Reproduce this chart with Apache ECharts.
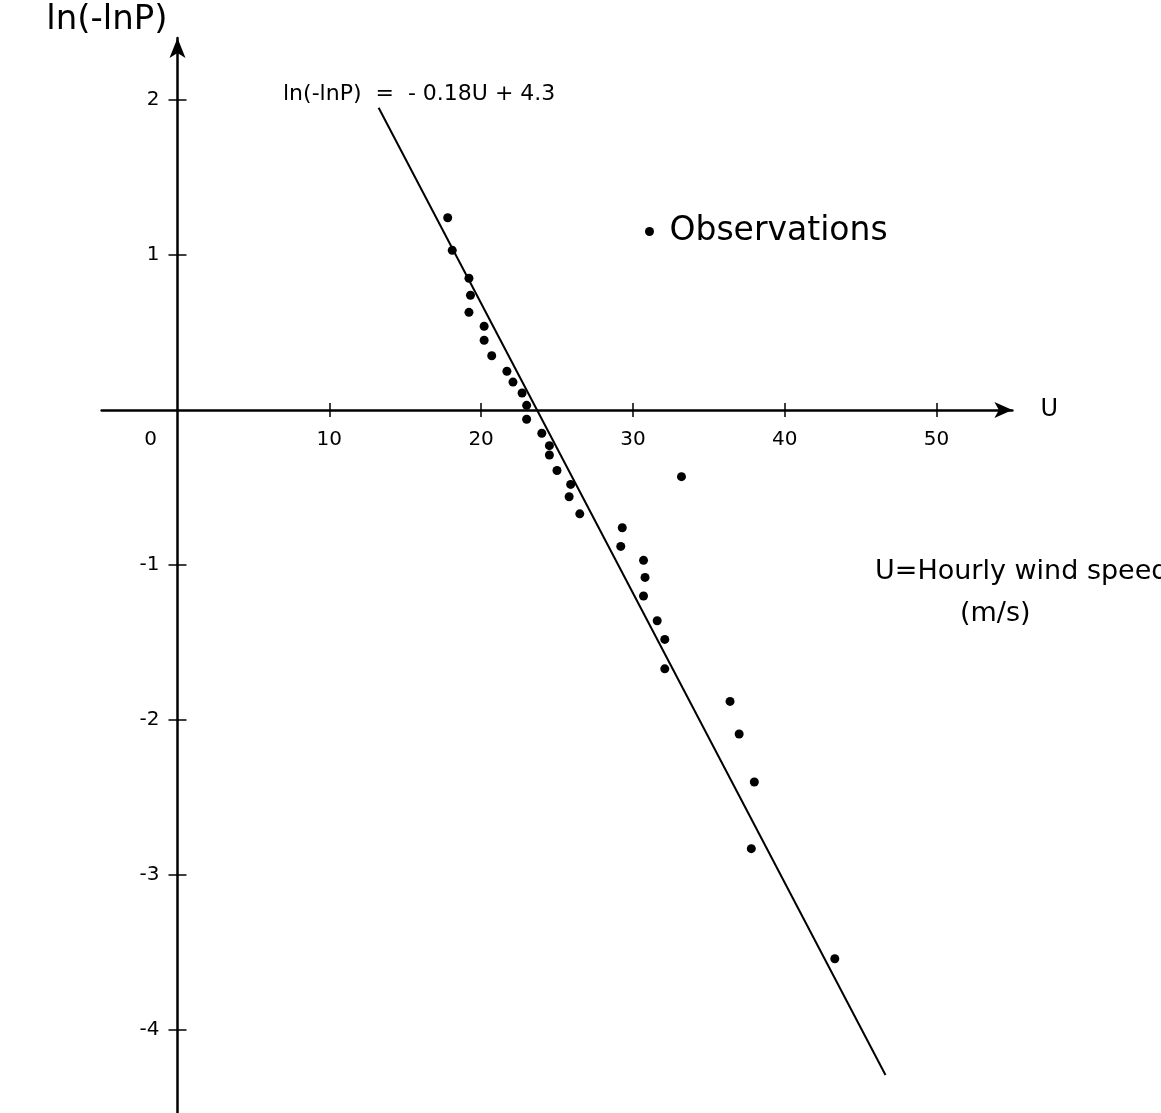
<!DOCTYPE html>
<html>
<head>
<meta charset="utf-8">
<title>ln(-lnP) against hourly wind speed</title>
<script src="https://cdn.jsdelivr.net/npm/echarts@6/dist/echarts.min.js"></script>
<style>
    html, body { margin: 0; padding: 0; background: #fff; }
    #chart { width: 1161px; height: 1113px; }
</style>
</head>
<body>
<div id="chart"></div>
<script>
// observations: hourly wind speed U (m/s) and ln(-lnP)
var obsU = [17.8, 18.1, 19.2, 19.3, 19.2, 20.2, 20.2, 20.7, 21.7, 22.1, 22.7, 23.0, 23.0,
    24.0, 24.5, 24.5, 25.0, 25.9, 25.8, 26.5, 33.2, 29.3, 29.2, 30.7, 30.8, 30.7,
    31.6, 32.1, 32.1, 36.4, 37.0, 38.0, 37.8, 43.3];
var obsY = [1.24, 1.03, 0.85, 0.74, 0.63, 0.54, 0.45, 0.35, 0.25, 0.18, 0.11, 0.03, -0.06,
    -0.15, -0.23, -0.29, -0.39, -0.48, -0.56, -0.67, -0.43, -0.76, -0.88, -0.97, -1.08, -1.20,
    -1.36, -1.48, -1.67, -1.88, -2.09, -2.40, -2.83, -3.54];
// fitted line ln(-lnP) = -0.18U + 4.3, ends as drawn
var fitU = [13.25, 46.64];
var fitY = [1.95, -4.29];
// axis ranges, ticks and labels
var xMin = -5, xMax = 55;
var yMin = -4.55, yMax = 2.4;
var xTicks = [10, 20, 30, 40, 50];
var xLabels = [0, 10, 20, 30, 40, 50];
var yTicks = [-4, -3, -2, -1, 1, 2];

var FONT = 'DejaVu Sans';
var gridW = 910.8, gridH = 1077.25;

var myChart = echarts.init(document.getElementById('chart'));

var obsData = obsU.map(function (u, i) { return [u, obsY[i]]; });
var fitData = fitU.map(function (u, i) { return [u, fitY[i]]; });

// axes cross at the origin: move them in from the grid edges
var xOffset = -(0 - yMin) / (yMax - yMin) * gridH;
var yOffset = -(0 - xMin) / (xMax - xMin) * gridW;

var tickStyle = { color: '#000', width: 1.5 };
// the second axis of each pair only adds the other half of the crossing ticks
var hiddenLine = { show: true, onZero: false, lineStyle: { color: '#000', opacity: 0 } };

var option = {
    animation: false,
    backgroundColor: '#fff',
    textStyle: { fontFamily: FONT, color: '#000' },
    grid: {
        left: 101.6,
        top: 38,
        width: gridW,
        height: gridH,
        containLabel: false,
        outerBoundsMode: 'none'
    },
    legend: {
        data: ['Observations'],
        left: 645,
        top: 215,
        padding: 0,
        icon: 'circle',
        itemWidth: 30,
        itemHeight: 9,
        textStyle: { fontSize: 33, color: '#000', fontFamily: FONT }
    },
    xAxis: [{
        type: 'value',
        position: 'bottom',
        offset: xOffset,
        min: xMin,
        max: xMax,
        splitLine: { show: false },
        axisLine: {
            onZero: false,
            symbol: ['none', 'arrow'],
            symbolSize: [12, 18],
            lineStyle: { color: '#000', width: 2.5 }
        },
        axisTick: { customValues: xTicks, length: 7, lineStyle: tickStyle },
        axisLabel: {
            customValues: xLabels,
            margin: 20,
            fontSize: 20,
            color: '#000',
            formatter: function (v) {
                return v === 0 ? '{z|0}' : String(v);
            },
            rich: {
                z: { fontSize: 20, fontFamily: FONT, padding: [0, 54, 0, 0] }
            }
        },
        name: 'U',
        nameLocation: 'end',
        nameGap: 28,
        nameTextStyle: { fontSize: 24, color: '#000' }
    }, {
        type: 'value',
        position: 'bottom',
        offset: xOffset,
        min: xMin,
        max: xMax,
        splitLine: { show: false },
        axisLine: hiddenLine,
        axisTick: { show: true, customValues: xTicks, inside: true, length: 7, lineStyle: tickStyle },
        axisLabel: { show: false }
    }],
    yAxis: [{
        type: 'value',
        position: 'left',
        offset: yOffset,
        min: yMin,
        max: yMax,
        splitLine: { show: false },
        axisLine: {
            onZero: false,
            symbol: ['none', 'arrow'],
            symbolSize: [12, 20],
            lineStyle: { color: '#000', width: 2.5 }
        },
        axisTick: { customValues: yTicks, length: 9, lineStyle: tickStyle },
        axisLabel: {
            customValues: yTicks,
            margin: 18,
            fontSize: 20,
            color: '#000'
        },
        name: 'ln(-lnP)',
        nameLocation: 'end',
        nameGap: 1,
        nameTextStyle: {
            fontSize: 34,
            color: '#000',
            align: 'right',
            verticalAlign: 'bottom',
            padding: [0, 10, 0, 0]
        }
    }, {
        type: 'value',
        position: 'left',
        offset: yOffset,
        min: yMin,
        max: yMax,
        splitLine: { show: false },
        axisLine: hiddenLine,
        axisTick: { show: true, customValues: yTicks, inside: true, length: 9, lineStyle: tickStyle },
        axisLabel: { show: false }
    }],
    graphic: [{
        type: 'text',
        left: 283,
        top: 83,
        style: { text: 'ln(-lnP)  =  - 0.18U + 4.3', font: '22px "DejaVu Sans"', fill: '#000' }
    }, {
        type: 'text',
        left: 875,
        top: 558,
        style: { text: 'U=Hourly wind speed', font: '27px "DejaVu Sans"', fill: '#000' }
    }, {
        type: 'text',
        left: 960,
        top: 600,
        style: { text: '(m/s)', font: '27px "DejaVu Sans"', fill: '#000' }
    }],
    series: [{
        name: 'fit',
        type: 'line',
        data: fitData,
        xAxisIndex: 0,
        yAxisIndex: 0,
        showSymbol: false,
        symbol: 'none',
        lineStyle: { color: '#000', width: 2 },
        z: 3
    }, {
        name: 'Observations',
        type: 'scatter',
        data: obsData,
        xAxisIndex: 0,
        yAxisIndex: 0,
        symbol: 'circle',
        symbolSize: 9,
        itemStyle: { color: '#000', opacity: 1 },
        z: 4
    }]
};

myChart.setOption(option);
window.addEventListener('resize', function () { myChart.resize(); });
</script>
</body>
</html>
